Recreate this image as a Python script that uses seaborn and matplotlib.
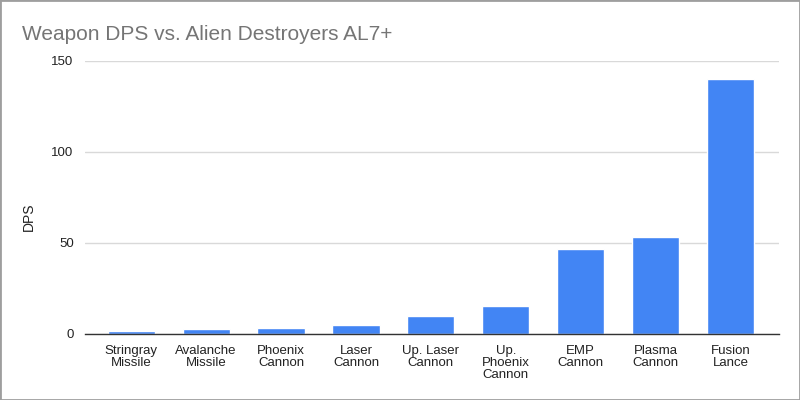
import pandas as pd
import seaborn as sns
import matplotlib.pyplot as plt
from matplotlib.patches import Rectangle

# 数据
weapons = ['Stringray\nMissile', 'Avalanche\nMissile', 'Phoenix\nCannon', 'Laser\nCannon',
           'Up. Laser\nCannon', 'Up.\nPhoenix\nCannon', 'EMP\nCannon', 'Plasma\nCannon',
           'Fusion\nLance']
dps = [1.7, 2.4, 2.9, 4.7, 9.6, 15.1, 46.7, 53.3, 140.1]

df = pd.DataFrame({'weapon': weapons, 'dps': dps})

sns.set_theme(style='white')
plt.rcParams['font.family'] = ['Liberation Sans', 'DejaVu Sans']

fig = plt.figure(figsize=(8, 4), dpi=100)
ax = fig.add_axes([0.106, 0.166, 0.868, 0.6815])

sns.barplot(data=df, x='weapon', y='dps', color='#4285F4', saturation=1, width=0.63, ax=ax)

ax.set_ylim(0, 150)
ax.set_xlim(-0.62, 8.65)
ax.set_yticks([0, 50, 100, 150])
ax.yaxis.grid(True, color='#d9d9d9', linewidth=1)
ax.set_axisbelow(True)
for s in ['top', 'right', 'left']:
    ax.spines[s].set_visible(False)
ax.spines['bottom'].set_color('#333333')
ax.spines['bottom'].set_linewidth(1)
ax.tick_params(axis='both', length=0, labelsize=9.5, colors='#222222')
ax.tick_params(axis='x', pad=8)
ax.tick_params(axis='y', pad=8)
for lbl in ax.get_xticklabels():
    lbl.set_linespacing(1.0)
ax.set_xlabel('')
ax.set_ylabel('DPS', fontsize=10, color='#222222')
ax.yaxis.set_label_coords(-0.07, 0.427)

fig.text(0.027, 0.915, 'Weapon DPS vs. Alien Destroyers AL7+', fontsize=15,
         color='#757575', ha='left', va='center')

# 边框
fig.patches.append(Rectangle((0, 0), 1, 1, transform=fig.transFigure, fill=False,
                             edgecolor='#9e9e9e', linewidth=2))

plt.savefig('out.png', dpi=100)
